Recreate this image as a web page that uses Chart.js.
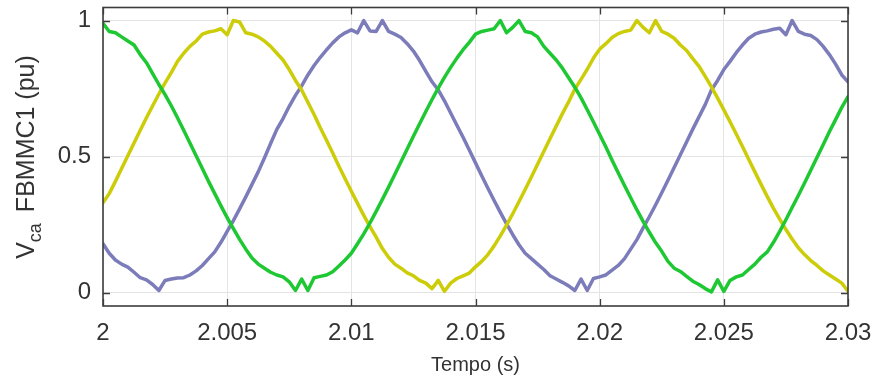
<!DOCTYPE html>
<html><head><meta charset="utf-8">
<script src="https://cdn.jsdelivr.net/npm/chart.js@4.4.1/dist/chart.umd.min.js"></script>
<style>html,body{margin:0;padding:0;background:#fff}canvas{display:block}</style>
</head><body>
<canvas id="c" width="874" height="381"></canvas>
<script>
// time grid (s)
const T0 = 2.0;
const DT = 0.00025;
const xTicks = [2, 2.005, 2.01, 2.015, 2.02, 2.025, 2.03];
const xTickLabels = ['2', '2.005', '2.01', '2.015', '2.02', '2.025', '2.03'];
const yTicks = [0, 0.5, 1];
const yTickLabels = ['0', '0.5', '1'];

// phase voltages (pu), read every 0.25 ms
const green = [
  0.99, 0.96, 0.955, 0.94, 0.925, 0.91, 0.875, 0.845, 0.805, 0.765, 0.728,
  0.687, 0.643, 0.597, 0.55, 0.503, 0.456, 0.409, 0.364, 0.319, 0.276,
  0.235, 0.196, 0.16, 0.127, 0.105, 0.09, 0.075, 0.065, 0.058, 0.04,
  0.008, 0.05, 0.008, 0.055, 0.06, 0.065, 0.077, 0.098, 0.12, 0.145,
  0.18, 0.216, 0.256, 0.299, 0.343, 0.388, 0.434, 0.481, 0.528, 0.575,
  0.621, 0.666, 0.71, 0.752, 0.791, 0.828, 0.862, 0.893, 0.92, 0.95,
  0.96, 0.965, 0.97, 1.0, 0.955, 0.975, 1.0, 0.96, 0.955, 0.94,
  0.905, 0.88, 0.855, 0.825, 0.79, 0.755, 0.716, 0.672, 0.627, 0.581,
  0.535, 0.487, 0.44, 0.394, 0.349, 0.304, 0.262, 0.222, 0.184, 0.152,
  0.115, 0.09, 0.078, 0.06, 0.042, 0.03, 0.015, 0.003, 0.047, 0.005,
  0.045, 0.058, 0.065, 0.085, 0.105, 0.13, 0.15, 0.185, 0.225, 0.268,
  0.313, 0.357, 0.403, 0.45, 0.497, 0.544, 0.591, 0.636, 0.681, 0.72
];
const yellow = [
  0.33, 0.364, 0.409, 0.456, 0.503, 0.55, 0.597, 0.643, 0.687, 0.73, 0.771,
  0.809, 0.85, 0.88, 0.905, 0.925, 0.95, 0.958, 0.962, 0.97, 0.948,
  1.0, 0.995, 0.955, 0.95, 0.94, 0.925, 0.905, 0.88, 0.855, 0.82,
  0.78, 0.745, 0.7, 0.655, 0.606, 0.56, 0.513, 0.465, 0.419, 0.373,
  0.328, 0.284, 0.243, 0.204, 0.162, 0.13, 0.105, 0.09, 0.073, 0.062,
  0.045, 0.035, 0.015, 0.045, 0.005, 0.035, 0.052, 0.062, 0.072, 0.095,
  0.115, 0.14, 0.172, 0.209, 0.248, 0.29, 0.334, 0.379, 0.425, 0.472,
  0.519, 0.566, 0.612, 0.658, 0.701, 0.748, 0.784, 0.821, 0.862, 0.895,
  0.915, 0.938, 0.952, 0.96, 0.965, 1.0, 0.975, 0.955, 1.0, 0.96,
  0.95, 0.935, 0.91, 0.89, 0.86, 0.832, 0.795, 0.756, 0.715, 0.672,
  0.628, 0.583, 0.537, 0.49, 0.444, 0.398, 0.353, 0.31, 0.27, 0.232,
  0.197, 0.165, 0.14, 0.118, 0.1, 0.08, 0.065, 0.05, 0.035, 0.005
];
const purple = [
  0.18, 0.145, 0.12, 0.105, 0.094, 0.075, 0.055, 0.047, 0.03, 0.008, 0.045,
  0.05, 0.054, 0.055, 0.065, 0.08, 0.1, 0.125, 0.15, 0.185, 0.225,
  0.265, 0.308, 0.352, 0.398, 0.444, 0.495, 0.548, 0.6, 0.64, 0.685,
  0.725, 0.76, 0.8, 0.835, 0.865, 0.892, 0.918, 0.94, 0.955, 0.966,
  0.955, 1.0, 0.962, 0.96, 1.0, 0.96, 0.95, 0.938, 0.915, 0.888,
  0.853, 0.813, 0.775, 0.745, 0.705, 0.66, 0.615, 0.571, 0.524, 0.477,
  0.43, 0.384, 0.339, 0.295, 0.253, 0.213, 0.176, 0.145, 0.125, 0.105,
  0.085, 0.062, 0.05, 0.038, 0.025, 0.008, 0.05, 0.008, 0.052, 0.058,
  0.065, 0.083, 0.1, 0.125, 0.16, 0.195, 0.238, 0.279, 0.322, 0.367,
  0.413, 0.46, 0.507, 0.554, 0.601, 0.646, 0.691, 0.745, 0.78, 0.82,
  0.85, 0.882, 0.91, 0.935, 0.95, 0.958, 0.962, 0.968, 0.972, 0.948,
  1.0, 0.96, 0.95, 0.945, 0.93, 0.905, 0.875, 0.84, 0.8, 0.775
];

const times = green.map((_, i) => +(T0 + i * DT).toFixed(5));
const pts = arr => arr.map((v, i) => ({ x: times[i], y: v }));

const FONT = '"Liberation Sans", Arial, Helvetica, sans-serif';
const TXT = '#333333';

const frame = {
  id: 'frame',
  afterDraw(chart) {
    const { ctx, chartArea: a, scales: { x, y } } = chart;
    ctx.save();
    ctx.strokeStyle = '#3c3c3c';
    ctx.lineWidth = 1.6;
    ctx.strokeRect(a.left, a.top, a.right - a.left, a.bottom - a.top);
    ctx.lineWidth = 1.3;
    ctx.beginPath();
    xTicks.forEach(v => {
      const px = Math.round(x.getPixelForValue(v)) + 0.5;
      ctx.moveTo(px, a.bottom); ctx.lineTo(px, a.bottom - 7);
      ctx.moveTo(px, a.top); ctx.lineTo(px, a.top + 7);
    });
    yTicks.forEach(v => {
      const py = Math.round(y.getPixelForValue(v)) + 0.5;
      ctx.moveTo(a.left, py); ctx.lineTo(a.left + 7, py);
      ctx.moveTo(a.right, py); ctx.lineTo(a.right - 7, py);
    });
    ctx.stroke();

    // y-axis title with subscript
    const f1 = '25px ' + FONT, f2 = '18px ' + FONT;
    const p1 = 'V', p2 = 'ca', p3 = 'FBMMC1 (pu)';
    const gap = 11;
    ctx.font = f1; const w1 = ctx.measureText(p1).width, w3 = ctx.measureText(p3).width;
    ctx.font = f2; const w2 = ctx.measureText(p2).width;
    const total = w1 + w2 + gap + w3;
    ctx.translate(33.5, 157);
    ctx.rotate(-Math.PI / 2);
    ctx.fillStyle = TXT;
    ctx.textBaseline = 'alphabetic';
    ctx.textAlign = 'left';
    let cx = -total / 2;
    ctx.font = f1; ctx.fillText(p1, cx, 0); cx += w1;
    ctx.font = f2; ctx.fillText(p2, cx, 7); cx += w2 + gap;
    ctx.font = f1; ctx.fillText(p3, cx, 0);
    ctx.restore();
  }
};

new Chart(document.getElementById('c'), {
  type: 'line',
  data: {
    datasets: [
      { label: 'green', data: pts(green), borderColor: '#1ec832' },
      { label: 'yellow', data: pts(yellow), borderColor: '#cccc08' },
      { label: 'purple', data: pts(purple), borderColor: '#7c7cba' }
    ]
  },
  options: {
    responsive: false,
    animation: false,
    events: [],
    layout: { padding: { left: 0, right: 26, top: 7.5, bottom: 0 } },
    elements: {
      line: { borderWidth: 3.5, tension: 0, borderJoinStyle: 'round', borderCapStyle: 'round' },
      point: { radius: 0 }
    },
    plugins: { legend: { display: false }, tooltip: { enabled: false } },
    scales: {
      x: {
        type: 'linear', min: 2, max: 2.03,
        afterBuildTicks: s => { s.ticks = xTicks.map(v => ({ value: v })); },
        afterFit: s => { s.height = 75; s.paddingLeft = 0; s.paddingRight = 0; },
        ticks: {
          autoSkip: false, maxRotation: 0, padding: 13,
          color: TXT, font: { family: FONT, size: 24 },
          callback: (v, i) => xTickLabels[i]
        },
        grid: { color: '#e4e4e4', lineWidth: 1, drawTicks: false },
        border: { display: false },
        title: { display: true, text: 'Tempo (s)', color: TXT, font: { family: FONT, size: 20 }, padding: { top: 0, bottom: 4 } }
      },
      y: {
        type: 'linear', min: -0.049, max: 1.048,
        afterBuildTicks: s => { s.ticks = yTicks.map(v => ({ value: v })); },
        afterFit: s => { s.width = 103; s.paddingTop = 0; s.paddingBottom = 0; },
        ticks: {
          autoSkip: false, padding: 12,
          color: TXT, font: { family: FONT, size: 24 },
          callback: (v, i) => yTickLabels[i]
        },
        grid: { color: '#e4e4e4', lineWidth: 1, drawTicks: false },
        border: { display: false }
      }
    }
  },
  plugins: [frame]
});
</script>
</body></html>
